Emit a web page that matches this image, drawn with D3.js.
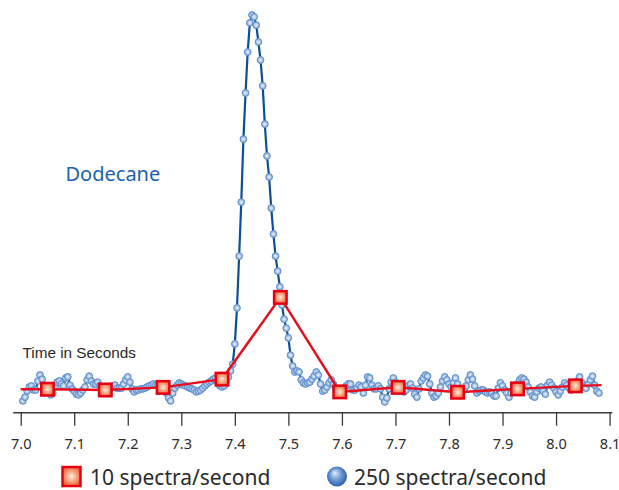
<!DOCTYPE html>
<html>
<head>
<meta charset="utf-8">
<script src="https://cdn.jsdelivr.net/npm/d3@7"></script>
<style>
  body { margin: 0; background: #fff; }
  svg { display: block; }
</style>
</head>
<body>
<div id="chart"></div>
<script>
// data (relative intensity, % of peak)
const slowTimes = [7.050, 7.158, 7.266, 7.376, 7.485, 7.596, 7.705, 7.816, 7.928, 8.036];
const slowValues = [0.2, 0.0, 0.7, 2.9, 24.7, -0.5, 0.7, -0.6, 0.3, 1.1];
// red line runs a bit past the first and last spectra
const slowLineEnds = [[7.0, 0.2], [8.085, 1.3]];

const fastStart = 7.004;   // first spectrum, seconds
const fastStep = 0.004;    // 250 spectra/second
const fastValues = [
  -2.9, -1.9, -0.3, 0.8, 1.1, 0.0, 0.0, 2.4, 4.0, 2.9,
  1.3, 0.3, -0.5, -1.3, -0.8, 0.8, 2.1, 2.4, 1.6, 1.1,
  3.2, 3.5, 1.3, 0.3, -0.3, -1.1, -1.3, -0.8, 0.0, 0.8,
  2.7, 3.7, 2.4, 1.6, 1.6, 2.1, 1.1, 0.3, 0.0, 0.0,
  0.3, 0.5, 1.1, 1.3, 0.5, 0.5, 0.5, 1.6, 2.7, 3.5,
  2.1, 0.3, -0.5, 0.0, 0.0, 0.3, 0.3, 0.5, 0.8, 1.1,
  1.3, 1.6, 1.3, 1.3, 1.1, 0.8, 0.3, -0.8, -2.1, -2.9,
  -0.8, 0.5, 1.3, 1.9, 1.6, 1.3, 1.1, 0.8, 0.5, 0.3,
  0.0, -0.5, -0.3, 0.0, 0.5, 1.1, 1.6, 2.1, 2.4, 2.9,
  3.2, 2.1, 1.1, 0.8, 1.1, 2.7, 3.5, 5.1, 6.9, 12.3,
  21.9, 35.7, 50.1, 66.9, 79.2, 90.1, 97.9, 100.0, 99.5, 97.3,
  92.8, 88.0, 81.1, 70.9, 62.4, 56.8, 48.5, 41.6, 35.7, 31.7,
  27.5, 22.7, 18.9, 16.5, 13.9, 9.3, 6.4, 4.8, 5.1, 4.8,
  2.7, 1.9, 1.6, 1.9, 2.1, 2.9, 3.7, 4.8, 4.0, 1.6,
  -0.3, 0.0, 0.8, 1.9, 2.7, 1.6, 0.5, 0.0, 0.0, 0.3,
  0.5, 1.1, 1.6, 1.6, 0.0, 0.0, 0.5, 1.3, 0.8, -0.8,
  1.3, 3.5, 3.2, 1.3, 0.3, 0.3, 1.1, 0.3, -1.9, -3.2,
  -2.1, 0.3, 2.1, 3.2, 2.1, 1.1, 0.5, 0.0, -0.5, 0.0,
  1.1, 1.6, 0.5, -1.1, -1.9, 0.3, 2.4, 3.2, 4.0, 3.7,
  1.6, -0.8, -1.9, -1.6, -0.8, 0.8, 2.4, 3.5, 2.7, 1.6,
  0.8, 1.9, 3.2, 1.6, 0.0, -0.8, 0.0, 1.1, 2.7, 4.0,
  2.9, 1.1, -0.8, -0.3, 0.0, 0.0, -0.5, -0.8, -0.5, -0.8,
  -1.6, -1.6, 0.5, 1.9, 1.1, 0.0, -0.8, -1.9, -0.8, 0.0,
  0.8, 1.6, 2.7, 3.2, 2.9, 2.1, 0.8, -0.5, -1.6, -1.9,
  -0.5, 0.5, 0.8, -0.3, -1.1, 1.3, 2.1, 1.3, 0.5, -0.5,
  -1.3, -0.3, 0.8, 1.9, 1.3, 0.5, 0.0, 0.5, 1.3, 2.4,
  3.5, 1.9, 0.8, 0.5, 1.6, 2.7, 3.7, 1.3, -0.3, -0.8
];

const tickLabels = ["7.0", "7.1", "7.2", "7.3", "7.4", "7.5", "7.6", "7.7", "7.8", "7.9", "8.0", "8.1"];
const axisExtent = [6.986, 8.105];
const legendLabels = ["10 spectra/second", "250 spectra/second"];

const width = 619, height = 490;

const svg = d3.select("#chart")
  .append("svg")
  .attr("width", width)
  .attr("height", height);

const defs = svg.append("defs");

const sqGrad = defs.append("radialGradient").attr("id", "sqGrad")
  .attr("cx", "50%").attr("cy", "50%").attr("r", "65%");
sqGrad.append("stop").attr("offset", "0%").attr("stop-color", "#fdeee4");
sqGrad.append("stop").attr("offset", "45%").attr("stop-color", "#f7a27c");
sqGrad.append("stop").attr("offset", "100%").attr("stop-color", "#ee4a2a");

const dotGrad = defs.append("radialGradient").attr("id", "dotGrad")
  .attr("cx", "50%").attr("cy", "50%").attr("r", "50%");
dotGrad.append("stop").attr("offset", "0%").attr("stop-color", "#f2f6fc");
dotGrad.append("stop").attr("offset", "60%").attr("stop-color", "#a9c4e8");
dotGrad.append("stop").attr("offset", "100%").attr("stop-color", "#7ea5d8");

const ballGrad = defs.append("radialGradient").attr("id", "ballGrad")
  .attr("cx", "50%").attr("cy", "50%").attr("r", "60%")
  .attr("fx", "38%").attr("fy", "30%");
ballGrad.append("stop").attr("offset", "0%").attr("stop-color", "#e4eefa");
ballGrad.append("stop").attr("offset", "45%").attr("stop-color", "#6f9fd8");
ballGrad.append("stop").attr("offset", "100%").attr("stop-color", "#1b4f98");

// scales
const x = d3.scaleLinear().domain([7.0, 8.1]).range([20.7, 609.6]);
const y = d3.scaleLinear().domain([0, 100]).range([390, 15]);

// x axis
const axisY = 412.7;
const xAxis = svg.append("g")
  .attr("transform", `translate(0,${axisY})`)
  .call(d3.axisBottom(x)
    .tickValues(tickLabels.map(Number))
    .tickFormat((d, i) => tickLabels[i])
    .tickSizeInner(13)
    .tickSizeOuter(0)
    .tickPadding(13));
xAxis.select(".domain").remove();
xAxis.append("line")
  .attr("x1", x(axisExtent[0]))
  .attr("x2", x(axisExtent[1]))
  .attr("stroke", "#3a3a3a")
  .attr("stroke-width", 1.5);
xAxis.selectAll(".tick line").attr("stroke", "#3a3a3a").attr("stroke-width", 1.3);
xAxis.selectAll(".tick text")
  .attr("fill", "#2b2b2b")
  .style("font-family", "'Noto Sans', sans-serif")
  .style("font-size", "14.5px");

// 250 spectra/second trace
const fast = fastValues.map((v, i) => ({ t: fastStart + i * fastStep, v: v }));

const line = d3.line()
  .x(d => x(d.t))
  .y(d => y(d.v));

svg.append("path")
  .datum(fast)
  .attr("fill", "none")
  .attr("stroke", "#0b4f98")
  .attr("stroke-width", 2.2)
  .attr("d", line);

svg.append("g")
  .selectAll("circle")
  .data(fast)
  .join("circle")
  .attr("cx", d => x(d.t))
  .attr("cy", d => y(d.v))
  .attr("r", 3.4)
  .attr("fill", "url(#dotGrad)")
  .attr("stroke", "#5b8ccb")
  .attr("stroke-width", 0.9);

// 10 spectra/second trace
const slow = slowTimes.map((t, i) => ({ t: t, v: slowValues[i] }));
const slowLine = [{ t: slowLineEnds[0][0], v: slowLineEnds[0][1] }]
  .concat(slow)
  .concat([{ t: slowLineEnds[1][0], v: slowLineEnds[1][1] }]);

svg.append("path")
  .datum(slowLine)
  .attr("fill", "none")
  .attr("stroke", "#e60f1e")
  .attr("stroke-width", 2.5)
  .attr("d", line);

const sq = 12.5;
svg.append("g")
  .selectAll("rect")
  .data(slow)
  .join("rect")
  .attr("x", d => x(d.t) - sq / 2)
  .attr("y", d => y(d.v) - sq / 2)
  .attr("width", sq)
  .attr("height", sq)
  .attr("fill", "url(#sqGrad)")
  .attr("stroke", "#e60012")
  .attr("stroke-width", 2.5);

// labels
svg.append("text")
  .attr("x", 65.5)
  .attr("y", 181)
  .attr("fill", "#1a63b2")
  .style("font-family", "'Noto Sans', sans-serif")
  .style("font-size", "20px")
  .text("Dodecane");

svg.append("text")
  .attr("x", 22.5)
  .attr("y", 358)
  .attr("fill", "#2b2b2b")
  .style("font-family", "'Liberation Sans', Arial, sans-serif")
  .style("font-size", "15.3px")
  .text("Time in Seconds");

// legend
const legend = svg.append("g");
legend.append("rect")
  .attr("x", 62.5).attr("y", 467)
  .attr("width", 18).attr("height", 19)
  .attr("fill", "url(#sqGrad)")
  .attr("stroke", "#e60012")
  .attr("stroke-width", 2.5);
legend.append("text")
  .attr("x", 90)
  .attr("y", 485)
  .attr("fill", "#2b2b2b")
  .style("font-family", "'Noto Sans', sans-serif")
  .style("font-size", "21px")
  .text(legendLabels[0]);

legend.append("circle")
  .attr("cx", 337).attr("cy", 476.5).attr("r", 10)
  .attr("fill", "url(#ballGrad)");
legend.append("text")
  .attr("x", 354)
  .attr("y", 485)
  .attr("fill", "#2b2b2b")
  .style("font-family", "'Noto Sans', sans-serif")
  .style("font-size", "21px")
  .text(legendLabels[1]);
</script>
</body>
</html>
